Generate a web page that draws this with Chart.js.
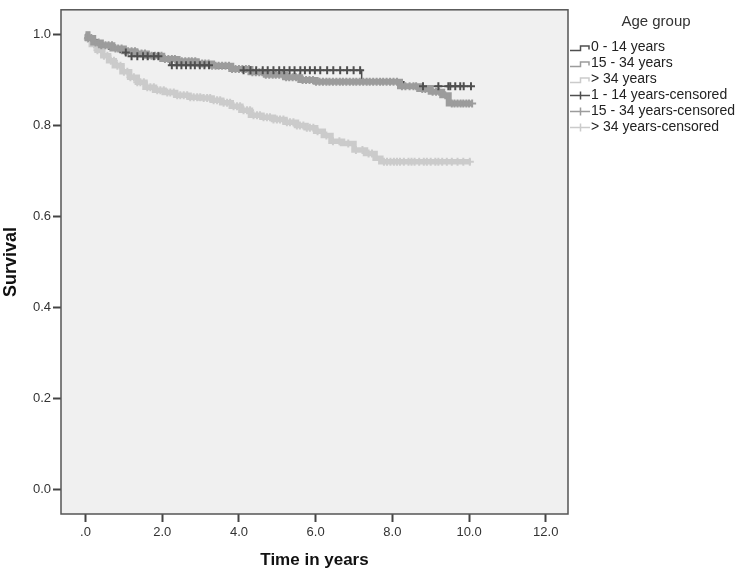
<!DOCTYPE html>
<html>
<head>
<meta charset="utf-8">
<title>Survival by age group</title>
<script src="https://cdn.jsdelivr.net/npm/chart.js@4.4.0/dist/chart.umd.min.js"></script>
<style>
  html, body { margin: 0; padding: 0; background: #fff; }
</style>
</head>
<body>
<canvas id="km" width="744" height="575"></canvas>
<script>
// ---- data ----
const groupNames = ["0 - 14 years", "15 - 34 years", "> 34 years"];
const censorNames = ["1 - 14 years-censored", "15 - 34 years-censored", "> 34 years-censored"];
const legendTitle = "Age group";

const xTickVals = [0, 2, 4, 6, 8, 10, 12];
const xTickLabels = [".0", "2.0", "4.0", "6.0", "8.0", "10.0", "12.0"];
const yTickVals = [0, 0.2, 0.4, 0.6, 0.8, 1.0];
const yTickLabels = ["0.0", "0.2", "0.4", "0.6", "0.8", "1.0"];

// 0 - 14 years
const kidTimes = [0, 0.08, 0.3, 0.6, 0.9, 1.2, 2.0, 2.2, 3.4, 4.0, 7.2, 8.3];
const kidSurv = [1.0, 0.988, 0.978, 0.968, 0.96, 0.952, 0.945, 0.932, 0.926, 0.921, 0.896, 0.886];
const kidEnd = 10.05;
const kidCensored = [1.05, 1.2, 1.35, 1.5, 1.62, 1.78, 1.9, 2.25, 2.38, 2.5, 2.62, 2.74, 2.85, 2.98, 3.1, 3.22,
  4.12, 4.3, 4.45, 4.62, 4.75, 4.9, 5.05, 5.18, 5.32, 5.45, 5.6, 5.72, 5.85, 5.98, 6.12, 6.3, 6.46, 6.64,
  6.82, 6.99, 7.16, 8.8, 9.2, 9.46, 9.51, 9.64, 9.77, 9.86, 10.05];

// 15 - 34 years
const youngTimes = [0, 0.05, 0.2, 0.4, 0.7, 1.0, 1.3, 1.6, 2.0, 2.4, 2.9, 3.3, 3.8, 4.3, 4.7, 5.2, 5.6, 6.0,
  8.2, 8.7, 9.0, 9.3, 9.47];
const youngSurv = [1.0, 0.992, 0.982, 0.976, 0.969, 0.963, 0.958, 0.953, 0.946, 0.941, 0.936, 0.931, 0.924,
  0.917, 0.911, 0.906, 0.9, 0.896, 0.886, 0.88, 0.874, 0.866, 0.848];
const youngEnd = 10.08;
const youngCensored = [0.07, 0.15, 0.26, 0.34, 0.41, 0.52, 0.6, 0.69, 0.78, 0.85, 0.94, 1.03, 1.11, 1.2, 1.29,
  1.37, 1.46, 1.55, 1.63, 1.72, 1.81, 1.9, 1.98, 2.07, 2.16, 2.25, 2.33, 2.42, 2.51, 2.6, 2.69, 2.77, 2.86,
  2.95, 3.04, 3.12, 3.21, 3.3, 3.39, 3.47, 3.56, 3.65, 3.74, 3.82, 3.91, 4.0, 4.09, 4.18, 4.26, 4.35, 4.44,
  4.53, 4.61, 4.7, 4.79, 4.88, 4.96, 5.05, 5.14, 5.23, 5.31, 5.4, 5.49, 5.58, 5.66, 5.75, 5.84, 5.93, 6.01,
  6.1, 6.19, 6.28, 6.36, 6.45, 6.54, 6.63, 6.71, 6.8, 6.89, 6.98, 7.06, 7.15, 7.24, 7.33, 7.41, 7.5, 7.59,
  7.68, 7.76, 7.85, 7.94, 8.03, 8.12, 8.25, 8.34, 8.45, 8.55, 8.62, 8.78, 8.86, 8.95, 9.05, 9.14, 9.22,
  9.38, 9.55, 9.62, 9.7, 9.78, 9.85, 9.93, 10.0, 10.08];

// > 34 years
const oldTimes = [0, 0.05, 0.15, 0.3, 0.45, 0.6, 0.75, 0.95, 1.15, 1.35, 1.55, 1.8, 2.05, 2.35, 2.7, 3.0,
  3.3, 3.55, 3.8, 4.05, 4.3, 4.6, 4.9, 5.2, 5.5, 5.75, 6.0, 6.2, 6.4, 6.7, 7.0, 7.3, 7.55, 7.7];
const oldSurv = [1.0, 0.99, 0.978, 0.965, 0.953, 0.942, 0.931, 0.918, 0.906, 0.895, 0.884, 0.877, 0.872,
  0.866, 0.862, 0.86, 0.855, 0.85, 0.842, 0.833, 0.822, 0.818, 0.813, 0.807, 0.8, 0.795, 0.787, 0.778,
  0.765, 0.76, 0.746, 0.738, 0.728, 0.72];
const oldEnd = 10.05;
const oldCensored = [0.06, 0.14, 0.22, 0.31, 0.4, 0.48, 0.57, 0.66, 0.74, 0.83, 0.91, 1.0, 1.09, 1.17, 1.26,
  1.35, 1.43, 1.52, 1.61, 1.69, 1.78, 1.87, 1.95, 2.04, 2.13, 2.21, 2.3, 2.39, 2.47, 2.56, 2.65, 2.73,
  2.82, 2.91, 2.99, 3.08, 3.17, 3.25, 3.34, 3.43, 3.51, 3.6, 3.69, 3.77, 3.86, 3.95, 4.03, 4.12, 4.21,
  4.29, 4.38, 4.47, 4.55, 4.64, 4.73, 4.81, 4.9, 4.99, 5.07, 5.16, 5.25, 5.33, 5.42, 5.51, 5.59, 5.68,
  5.77, 5.85, 5.94, 6.05, 6.28, 6.45, 6.62, 6.85, 7.05, 7.22, 7.38, 7.47, 7.78, 7.86, 7.95, 8.04, 8.12,
  8.2, 8.3, 8.42, 8.5, 8.58, 8.7, 8.82, 8.9, 9.0, 9.12, 9.2, 9.3, 9.42, 9.55, 9.7, 9.85, 10.02];

const groupColors = ["#4f4f4f", "#9c9c9c", "#cbcbcb"];

// ---- helpers ----
const FONT = '"Liberation Sans", Arial, sans-serif';

function survAt(times, surv, t) {
  let s = surv[0];
  for (let i = 0; i < times.length; i++) {
    if (times[i] <= t) s = surv[i];
  }
  return s;
}

function stepLine(times, surv, end) {
  const pts = times.map((t, i) => ({ x: t, y: surv[i] }));
  pts.push({ x: end, y: surv[surv.length - 1] });
  return pts;
}

function censorPoints(times, surv, cens) {
  return cens.map(t => ({ x: t, y: survAt(times, surv, t) }));
}

function lineSet(label, pts, color, width) {
  return {
    label: label, data: pts, borderColor: color, borderWidth: width,
    stepped: true, pointRadius: 0, fill: false, tension: 0
  };
}

function censorSet(label, pts, color, size) {
  return {
    label: label, data: pts, showLine: false, pointStyle: "cross",
    pointRadius: size, pointBorderWidth: 2, borderColor: color, backgroundColor: color
  };
}

// plot background, frame and the SPSS style legend
const frame = {
  id: "frame",
  beforeDatasetsDraw(chart) {
    const { ctx, chartArea: a } = chart;
    ctx.save();
    ctx.fillStyle = "#f0f0f0";
    ctx.fillRect(a.left, a.top, a.right - a.left, a.bottom - a.top);
    ctx.restore();
  },
  afterDraw(chart) {
    const { ctx, chartArea: a } = chart;
    ctx.save();
    ctx.strokeStyle = "#555";
    ctx.lineWidth = 1.5;
    ctx.strokeRect(a.left, a.top, a.right - a.left, a.bottom - a.top);

    ctx.fillStyle = "#333";
    ctx.font = "15px " + FONT;
    ctx.textAlign = "center";
    ctx.textBaseline = "middle";
    ctx.fillText(legendTitle, 656, 22);

    ctx.textAlign = "left";
    ctx.font = "14px " + FONT;
    const labels = groupNames.concat(censorNames);
    labels.forEach((lab, i) => {
      const cy = 47.5 + 16 * i;
      const col = groupColors[i % 3];
      ctx.strokeStyle = col;
      ctx.lineWidth = 1.5;
      ctx.beginPath();
      if (i < 3) {
        ctx.moveTo(570, cy + 3);
        ctx.lineTo(580.5, cy + 3);
        ctx.lineTo(580.5, cy - 1.5);
        ctx.lineTo(589, cy - 1.5);
        ctx.lineTo(589, cy + 2);
      } else {
        ctx.moveTo(570, cy);
        ctx.lineTo(590, cy);
        ctx.moveTo(580.5, cy - 4);
        ctx.lineTo(580.5, cy + 4);
      }
      ctx.stroke();
      ctx.fillStyle = "#222";
      ctx.fillText(lab, 591, cy);
    });
    ctx.restore();
  }
};

// first dataset is drawn on top: dark censor marks, then the 15-34 band, then the rest
const ctx = document.getElementById("km").getContext("2d");
new Chart(ctx, {
  type: "line",
  data: {
    datasets: [
      censorSet(censorNames[0], censorPoints(kidTimes, kidSurv, kidCensored), groupColors[0], 4),
      censorSet(censorNames[1], censorPoints(youngTimes, youngSurv, youngCensored), groupColors[1], 4),
      lineSet(groupNames[1], stepLine(youngTimes, youngSurv, youngEnd), groupColors[1], 6),
      lineSet(groupNames[0], stepLine(kidTimes, kidSurv, kidEnd), groupColors[0], 1.5),
      censorSet(censorNames[2], censorPoints(oldTimes, oldSurv, oldCensored), groupColors[2], 4),
      lineSet(groupNames[2], stepLine(oldTimes, oldSurv, oldEnd), groupColors[2], 5.5)
    ]
  },
  options: {
    responsive: false,
    animation: false,
    layout: { padding: { left: 0, right: 176, top: 5, bottom: 0 } },
    plugins: { legend: { display: false }, tooltip: { enabled: false } },
    scales: {
      x: {
        type: "linear",
        min: -0.64,
        max: 12.58,
        afterBuildTicks: s => { s.ticks = xTickVals.map(v => ({ value: v })); },
        afterFit: s => { s.height = 61; },
        border: { display: false },
        grid: { drawOnChartArea: false, drawTicks: true, tickLength: 8, tickColor: "#444", tickWidth: 2 },
        ticks: {
          autoSkip: false, maxRotation: 0, padding: 3, color: "#333",
          font: { family: FONT, size: 13 },
          callback: (v, i) => xTickLabels[i]
        },
        title: {
          display: true, text: "Time in years", color: "#111",
          font: { family: FONT, size: 17, weight: "bold" },
          padding: { top: 0, bottom: 4 }
        }
      },
      y: {
        type: "linear",
        min: -0.054,
        max: 1.054,
        afterBuildTicks: s => { s.ticks = yTickVals.map(v => ({ value: v })); },
        afterFit: s => { s.width = 61; },
        border: { display: false },
        grid: { drawOnChartArea: false, drawTicks: true, tickLength: 8, tickColor: "#444", tickWidth: 2 },
        ticks: {
          padding: 2, color: "#333",
          font: { family: FONT, size: 13 },
          callback: (v, i) => yTickLabels[i]
        },
        title: {
          display: true, text: "Survival", color: "#111",
          font: { family: FONT, size: 18, weight: "bold" },
          padding: { top: 0, bottom: 0 }
        }
      }
    }
  },
  plugins: [frame]
});
</script>
</body>
</html>
